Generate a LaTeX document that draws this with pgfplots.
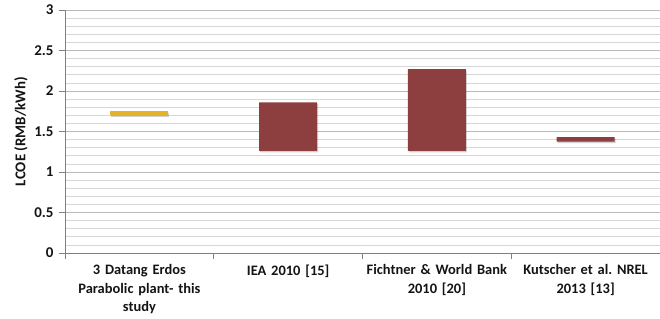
\documentclass[border=0pt]{standalone}
\usepackage{pgfplots}
\pgfplotsset{compat=1.18}
\usepackage{fontspec}
\setmainfont{Carlito}
\frenchspacing
\definecolor{barred}{RGB}{141,62,62}
\definecolor{baryel}{RGB}{228,180,40}
\definecolor{gridmaj}{RGB}{185,185,185}
\definecolor{gridmin}{RGB}{215,215,215}
\definecolor{txt}{RGB}{20,20,20}
\begin{document}
\begin{tikzpicture}
\useasboundingbox (-65bp,-66bp) rectangle (595bp,253bp);
\begin{axis}[
  at={(0,0)}, anchor=south west,
  scale only axis,
  width=595bp, height=243bp,
  ybar stacked,
  bar width=58bp,
  xmin=-0.5, xmax=3.5,
  ymin=0, ymax=3,
  ytick distance=0.5,
  minor y tick num=4,
  ymajorgrids, yminorgrids,
  major grid style={gridmaj, line width=0.8pt},
  minor grid style={gridmin, line width=0.8pt},
  xtick={0,1,2,3},
  xticklabels={{3 Datang Erdos\\Parabolic plant- this\\study},{IEA 2010 [15]},{Fichtner \& World Bank\\2010 [20]},{Kutscher et al. NREL\\2013 [13]}},
  minor xtick={-0.5,0.5,1.5,2.5,3.5},
  major x tick style={draw=none},
  minor y tick style={draw=none},
  major y tick style={gray, line width=0.8pt},
  minor x tick style={gray, line width=0.8pt},
  tick align=outside,
  major tick length=6bp,
  minor tick length=6bp,
  tick pos=left,
  axis x line*=bottom,
  axis y line*=left,
  axis line style={gray, line width=0.8pt},
  xticklabel style={align=center, text width=150bp, font=\bfseries\fontsize{14.5}{18.5}\selectfont, text=txt, yshift=-2bp},
  yticklabel style={font=\bfseries\fontsize{15}{17}\selectfont, text=txt, xshift=-2bp},
  /pgf/number format/assume math mode=true,
  ylabel={LCOE (RMB/kWh)},
  ylabel style={font=\bfseries\fontsize{15}{17}\selectfont, text=txt, at={(axis description cs:-0.074,0.5)}, anchor=center},
  yticklabel style={/pgf/number format/fixed},
]
\addplot[draw=none, fill=none] coordinates {(0,1.70) (1,1.26) (2,1.26) (3,1.375)};
\addplot[draw=none, fill=baryel, preaction={fill=black, fill opacity=0.18, transform canvas={xshift=1bp, yshift=-1.5bp}}] coordinates {(0,0.05) (1,0) (2,0) (3,0)};
\addplot[draw=none, fill=barred, preaction={fill=black, fill opacity=0.18, transform canvas={xshift=1bp, yshift=-1.5bp}}] coordinates {(0,0) (1,0.60) (2,1.01) (3,0.055)};
\end{axis}
\end{tikzpicture}
\end{document}
